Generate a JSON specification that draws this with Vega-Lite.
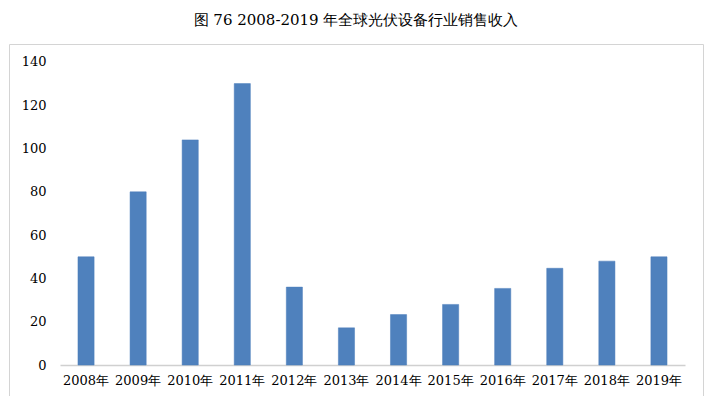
{
  "$schema": "https://vega.github.io/schema/vega-lite/v6.json",
  "width": 694,
  "height": 352,
  "autosize": {"type": "none"},
  "padding": {"left": 9, "top": 44, "right": 21, "bottom": 0},
  "background": "#ffffff",
  "title": {
    "text": "图 76 2008-2019 年全球光伏设备行业销售收入",
    "font": "DejaVu Serif",
    "fontSize": 15,
    "fontWeight": 500,
    "color": "#000000",
    "anchor": "middle",
    "offset": 16
  },
  "config": {
    "view": {"stroke": "#d4d4d4", "strokeWidth": 1},
    "axis": {"labelFont": "DejaVu Serif", "labelColor": "#000000", "labelFontSize": 13}
  },
  "data": {
    "values": [
      {"year": "2008年", "value": 50},
      {"year": "2009年", "value": 80},
      {"year": "2010年", "value": 104},
      {"year": "2011年", "value": 130},
      {"year": "2012年", "value": 36},
      {"year": "2013年", "value": 17.2},
      {"year": "2014年", "value": 23.3},
      {"year": "2015年", "value": 28},
      {"year": "2016年", "value": 35.4},
      {"year": "2017年", "value": 44.7},
      {"year": "2018年", "value": 48},
      {"year": "2019年", "value": 50}
    ]
  },
  "mark": {"type": "bar", "color": "#4F81BD", "stroke": "#4A7DBA", "strokeWidth": 0.5},
  "encoding": {
    "x": {
      "field": "year",
      "type": "nominal",
      "sort": null,
      "scale": {"range": [51, 676], "paddingInner": 0.69, "paddingOuter": 0.345},
      "axis": {
        "title": null,
        "labelAngle": 0,
        "offset": -31,
        "ticks": false,
        "labelPadding": 9,
        "domainColor": "#d0d0d0",
        "domainWidth": 1.5
      }
    },
    "y": {
      "field": "value",
      "type": "quantitative",
      "scale": {"domain": [-14.3, 148.3], "nice": false, "zero": false},
      "axis": {
        "title": null,
        "values": [0, 20, 40, 60, 80, 100, 120, 140],
        "grid": false,
        "domain": false,
        "ticks": false,
        "offset": -39,
        "labelPadding": 2
      }
    },
    "y2": {"datum": 0}
  }
}
